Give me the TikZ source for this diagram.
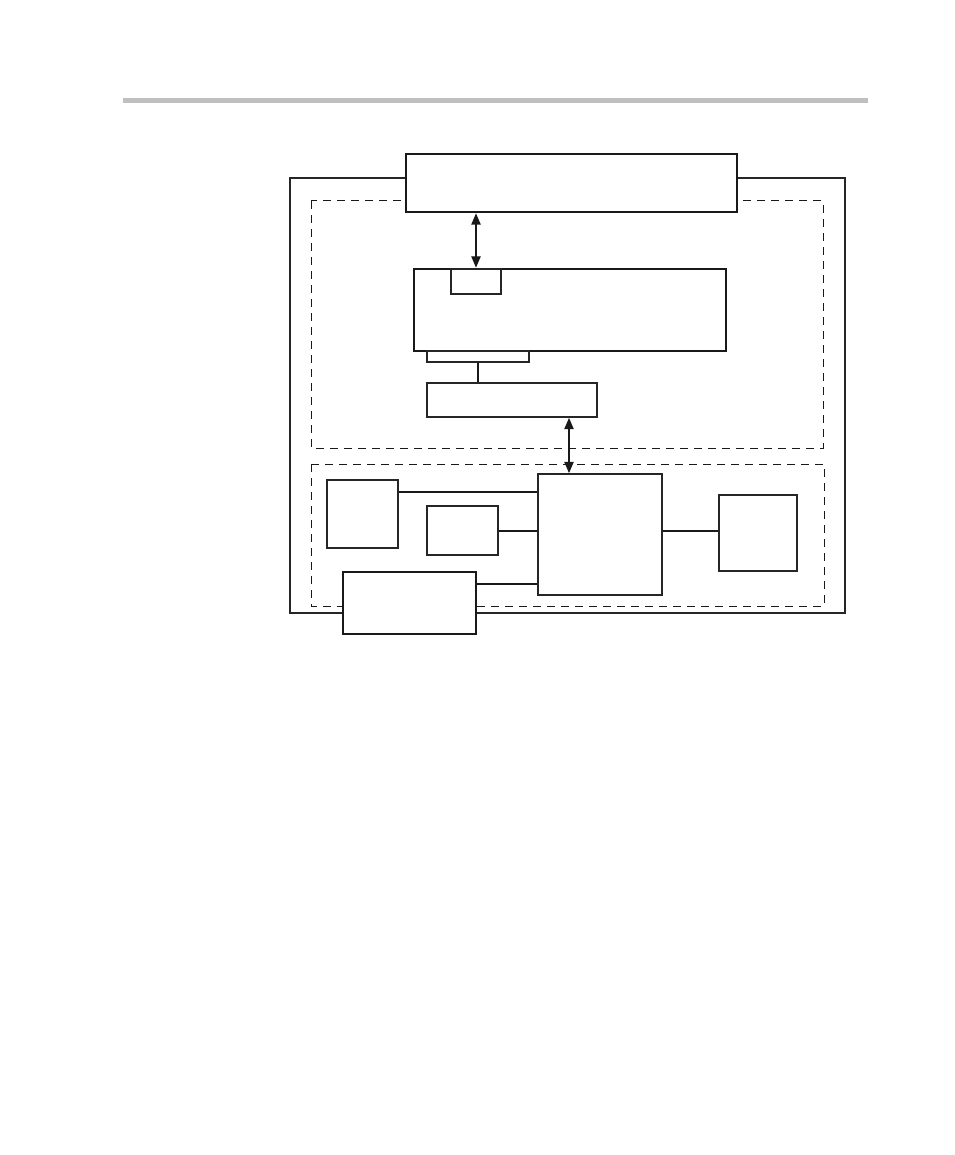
\documentclass[tikz,border=0pt]{standalone}
\usetikzlibrary{fit,arrows.meta}
\begin{document}
\begin{tikzpicture}[x=0.75pt,y=-0.75pt,
  thickbox/.style={draw=black!90,fill=white,line width=2pt,inner sep=0pt},
  midbox/.style={draw=black!85,fill=white,line width=1.3pt,inner sep=0pt},
  dashbox/.style={draw=black!90,line width=0.75pt,dash pattern=on 6pt off 4.5pt},
  arr/.style={{Triangle[length=8.5pt,width=7pt]}-{Triangle[length=8.5pt,width=7pt]},line width=1pt,draw=black!90},
  conn/.style={line width=1.4pt,draw=black!90},
  thinconn/.style={line width=0.8pt,draw=black!90}]
\useasboundingbox (0,0) rectangle (954,1155);
% header rule
\fill[black!25] (123,98) rectangle (868,103);
% outer frame
\draw[black!85,line width=1.3pt] (290,178) rectangle (845,613);
% dashed regions
\draw[dashbox] (311,201) rectangle (823,448);
\draw[dashbox] (311,464) rectangle (824,606);
% top box
\node[thickbox,fit={(406,154)(737,212)}] (top) {};
% middle box with small parts
\node[thickbox,fit={(414,269)(726,351)}] (mid) {};
\node[midbox,fit={(451,269)(501,294)}] (small) {};
\node[midbox,fit={(427,351)(529,362)}] (bar) {};
\node[midbox,fit={(427,383)(597,417)}] (F) {};
% lower boxes
\node[midbox,fit={(327,480)(398,548)}] (A) {};
\node[midbox,fit={(427,506)(498,555)}] (B) {};
\node[midbox,fit={(538,474)(662,595)}] (C) {};
\node[midbox,fit={(719,495)(797,571)}] (D) {};
\node[thickbox,line width=1.6pt,fit={(343,572)(476,634)}] (E) {};
% connectors
\draw[arr] (top.south -| small.center) -- (mid.north -| small.center);
\draw[conn] (bar.south) -- (bar.south |- F.north);
\coordinate (ax) at (569,0);
\draw[arr] (F.south -| ax) -- (C.north -| ax);
\coordinate (ya) at (0,492);
\coordinate (yb) at (0,531);
\coordinate (ye) at (0,584);
\draw[conn] (A.east |- ya) -- (C.west |- ya);
\draw[thinconn] (B.east |- yb) -- (C.west |- yb);
\draw[conn] (E.east |- ye) -- (C.west |- ye);
\draw[thinconn] (C.east |- yb) -- (D.west |- yb);
\end{tikzpicture}
\end{document}
